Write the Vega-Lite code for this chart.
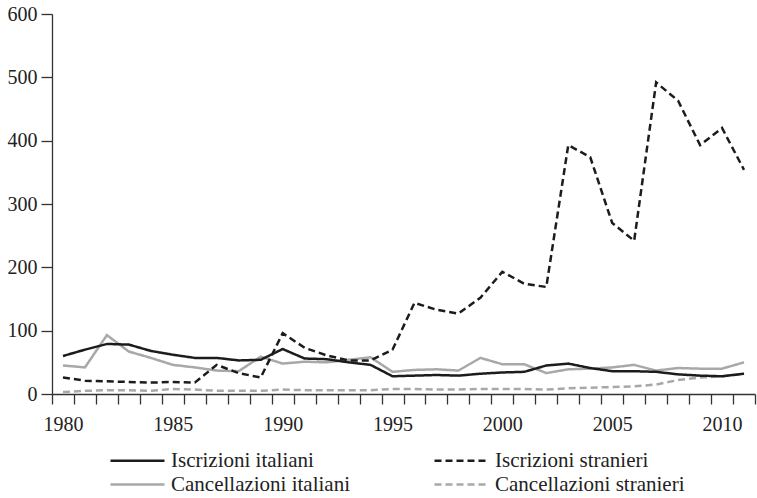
{
  "$schema": "https://vega.github.io/schema/vega-lite/v6.json",
  "autosize": {"type": "none"},
  "width": 703,
  "height": 380,
  "padding": {"left": 52, "top": 14, "right": 2, "bottom": 104},
  "background": "white",
  "config": {
    "view": {"stroke": null},
    "font": "Liberation Serif",
    "style": {"guide-label": {"font": "Liberation Serif", "fontSize": 20, "fill": "#222"}}
  },
  "data": {"values": [
    {"year":1980,"series":"Cancellazioni stranieri","value":3},{"year":1981,"series":"Cancellazioni stranieri","value":5},{"year":1982,"series":"Cancellazioni stranieri","value":6},{"year":1983,"series":"Cancellazioni stranieri","value":6},{"year":1984,"series":"Cancellazioni stranieri","value":5},{"year":1985,"series":"Cancellazioni stranieri","value":8},{"year":1986,"series":"Cancellazioni stranieri","value":7},{"year":1987,"series":"Cancellazioni stranieri","value":5},{"year":1988,"series":"Cancellazioni stranieri","value":5},{"year":1989,"series":"Cancellazioni stranieri","value":5},{"year":1990,"series":"Cancellazioni stranieri","value":7},{"year":1991,"series":"Cancellazioni stranieri","value":6},{"year":1992,"series":"Cancellazioni stranieri","value":6},{"year":1993,"series":"Cancellazioni stranieri","value":6},{"year":1994,"series":"Cancellazioni stranieri","value":6},{"year":1995,"series":"Cancellazioni stranieri","value":8},{"year":1996,"series":"Cancellazioni stranieri","value":8},{"year":1997,"series":"Cancellazioni stranieri","value":7},{"year":1998,"series":"Cancellazioni stranieri","value":7},{"year":1999,"series":"Cancellazioni stranieri","value":8},{"year":2000,"series":"Cancellazioni stranieri","value":8},{"year":2001,"series":"Cancellazioni stranieri","value":8},{"year":2002,"series":"Cancellazioni stranieri","value":7},{"year":2003,"series":"Cancellazioni stranieri","value":9},{"year":2004,"series":"Cancellazioni stranieri","value":10},{"year":2005,"series":"Cancellazioni stranieri","value":11},{"year":2006,"series":"Cancellazioni stranieri","value":12},{"year":2007,"series":"Cancellazioni stranieri","value":15},{"year":2008,"series":"Cancellazioni stranieri","value":22},{"year":2009,"series":"Cancellazioni stranieri","value":26},{"year":2010,"series":"Cancellazioni stranieri","value":28},{"year":2011,"series":"Cancellazioni stranieri","value":32},
    {"year":1980,"series":"Cancellazioni italiani","value":45},{"year":1981,"series":"Cancellazioni italiani","value":42},{"year":1982,"series":"Cancellazioni italiani","value":93},{"year":1983,"series":"Cancellazioni italiani","value":67},{"year":1984,"series":"Cancellazioni italiani","value":57},{"year":1985,"series":"Cancellazioni italiani","value":46},{"year":1986,"series":"Cancellazioni italiani","value":42},{"year":1987,"series":"Cancellazioni italiani","value":37},{"year":1988,"series":"Cancellazioni italiani","value":36},{"year":1989,"series":"Cancellazioni italiani","value":59},{"year":1990,"series":"Cancellazioni italiani","value":48},{"year":1991,"series":"Cancellazioni italiani","value":51},{"year":1992,"series":"Cancellazioni italiani","value":50},{"year":1993,"series":"Cancellazioni italiani","value":54},{"year":1994,"series":"Cancellazioni italiani","value":58},{"year":1995,"series":"Cancellazioni italiani","value":35},{"year":1996,"series":"Cancellazioni italiani","value":38},{"year":1997,"series":"Cancellazioni italiani","value":39},{"year":1998,"series":"Cancellazioni italiani","value":37},{"year":1999,"series":"Cancellazioni italiani","value":57},{"year":2000,"series":"Cancellazioni italiani","value":47},{"year":2001,"series":"Cancellazioni italiani","value":47},{"year":2002,"series":"Cancellazioni italiani","value":33},{"year":2003,"series":"Cancellazioni italiani","value":39},{"year":2004,"series":"Cancellazioni italiani","value":40},{"year":2005,"series":"Cancellazioni italiani","value":42},{"year":2006,"series":"Cancellazioni italiani","value":46},{"year":2007,"series":"Cancellazioni italiani","value":37},{"year":2008,"series":"Cancellazioni italiani","value":41},{"year":2009,"series":"Cancellazioni italiani","value":40},{"year":2010,"series":"Cancellazioni italiani","value":40},{"year":2011,"series":"Cancellazioni italiani","value":50},
    {"year":1980,"series":"Iscrizioni stranieri","value":26},{"year":1981,"series":"Iscrizioni stranieri","value":21},{"year":1982,"series":"Iscrizioni stranieri","value":20},{"year":1983,"series":"Iscrizioni stranieri","value":19},{"year":1984,"series":"Iscrizioni stranieri","value":18},{"year":1985,"series":"Iscrizioni stranieri","value":19},{"year":1986,"series":"Iscrizioni stranieri","value":18},{"year":1987,"series":"Iscrizioni stranieri","value":46},{"year":1988,"series":"Iscrizioni stranieri","value":33},{"year":1989,"series":"Iscrizioni stranieri","value":26},{"year":1990,"series":"Iscrizioni stranieri","value":96},{"year":1991,"series":"Iscrizioni stranieri","value":73},{"year":1992,"series":"Iscrizioni stranieri","value":61},{"year":1993,"series":"Iscrizioni stranieri","value":53},{"year":1994,"series":"Iscrizioni stranieri","value":53},{"year":1995,"series":"Iscrizioni stranieri","value":70},{"year":1996,"series":"Iscrizioni stranieri","value":144},{"year":1997,"series":"Iscrizioni stranieri","value":133},{"year":1998,"series":"Iscrizioni stranieri","value":127},{"year":1999,"series":"Iscrizioni stranieri","value":152},{"year":2000,"series":"Iscrizioni stranieri","value":193},{"year":2001,"series":"Iscrizioni stranieri","value":174},{"year":2002,"series":"Iscrizioni stranieri","value":169},{"year":2003,"series":"Iscrizioni stranieri","value":393},{"year":2004,"series":"Iscrizioni stranieri","value":374},{"year":2005,"series":"Iscrizioni stranieri","value":270},{"year":2006,"series":"Iscrizioni stranieri","value":242},{"year":2007,"series":"Iscrizioni stranieri","value":492},{"year":2008,"series":"Iscrizioni stranieri","value":463},{"year":2009,"series":"Iscrizioni stranieri","value":393},{"year":2010,"series":"Iscrizioni stranieri","value":420},{"year":2011,"series":"Iscrizioni stranieri","value":354},
    {"year":1980,"series":"Iscrizioni italiani","value":60},{"year":1981,"series":"Iscrizioni italiani","value":70},{"year":1982,"series":"Iscrizioni italiani","value":79},{"year":1983,"series":"Iscrizioni italiani","value":78},{"year":1984,"series":"Iscrizioni italiani","value":68},{"year":1985,"series":"Iscrizioni italiani","value":62},{"year":1986,"series":"Iscrizioni italiani","value":57},{"year":1987,"series":"Iscrizioni italiani","value":57},{"year":1988,"series":"Iscrizioni italiani","value":53},{"year":1989,"series":"Iscrizioni italiani","value":54},{"year":1990,"series":"Iscrizioni italiani","value":71},{"year":1991,"series":"Iscrizioni italiani","value":56},{"year":1992,"series":"Iscrizioni italiani","value":55},{"year":1993,"series":"Iscrizioni italiani","value":50},{"year":1994,"series":"Iscrizioni italiani","value":46},{"year":1995,"series":"Iscrizioni italiani","value":28},{"year":1996,"series":"Iscrizioni italiani","value":29},{"year":1997,"series":"Iscrizioni italiani","value":30},{"year":1998,"series":"Iscrizioni italiani","value":29},{"year":1999,"series":"Iscrizioni italiani","value":32},{"year":2000,"series":"Iscrizioni italiani","value":34},{"year":2001,"series":"Iscrizioni italiani","value":35},{"year":2002,"series":"Iscrizioni italiani","value":45},{"year":2003,"series":"Iscrizioni italiani","value":48},{"year":2004,"series":"Iscrizioni italiani","value":41},{"year":2005,"series":"Iscrizioni italiani","value":36},{"year":2006,"series":"Iscrizioni italiani","value":36},{"year":2007,"series":"Iscrizioni italiani","value":35},{"year":2008,"series":"Iscrizioni italiani","value":31},{"year":2009,"series":"Iscrizioni italiani","value":29},{"year":2010,"series":"Iscrizioni italiani","value":28},{"year":2011,"series":"Iscrizioni italiani","value":32}
  ]},
  "mark": {"type": "line", "strokeWidth": 2.5, "strokeJoin": "miter"},
  "encoding": {
    "x": {
      "field": "year", "type": "ordinal",
      "scale": {"type": "band", "paddingInner": 0, "paddingOuter": 0},
      "axis": {"title": null, "grid": false, "tickBand": "extent", "tickSize": 10, "labelAngle": 0, "labelPadding": 10,
               "labelFont": "Liberation Serif", "labelFontSize": 20, "labelColor": "#222",
               "domainColor": "#333", "tickColor": "#333", "domainWidth": 1.3, "tickWidth": 1.3,
               "labelExpr": "datum.value % 5 == 0 ? datum.label : ''"}
    },
    "y": {
      "field": "value", "type": "quantitative",
      "scale": {"domain": [0, 600], "nice": false},
      "axis": {"title": null, "grid": false, "values": [0, 100, 200, 300, 400, 500, 600], "tickSize": 11, "labelPadding": 4,
               "labelFont": "Liberation Serif", "labelFontSize": 20, "labelColor": "#222",
               "domainColor": "#333", "tickColor": "#333", "domainWidth": 1.3, "tickWidth": 1.3}
    },
    "color": {
      "field": "series", "type": "nominal",
      "scale": {
        "domain": ["Iscrizioni italiani", "Iscrizioni stranieri", "Cancellazioni italiani", "Cancellazioni stranieri"],
        "range": ["#1c1c1c", "#1c1c1c", "#a8a8a8", "#a8a8a8"]
      },
      "legend": {
        "title": null, "orient": "none", "legendX": 74, "legendY": 435,
        "direction": "horizontal", "columns": 2, "columnPadding": 78, "rowPadding": 2,
        "symbolType": "M-2.7,0H2.7", "symbolSize": 400, "symbolStrokeWidth": 2.5,
        "labelFont": "Liberation Serif", "labelFontSize": 21, "labelColor": "#222", "labelOffset": 22, "labelLimit": 400
      }
    },
    "strokeDash": {
      "field": "series", "type": "nominal",
      "scale": {
        "domain": ["Iscrizioni italiani", "Iscrizioni stranieri", "Cancellazioni italiani", "Cancellazioni stranieri"],
        "range": [[1, 0], [7, 4], [1, 0], [7, 4]]
      },
      "legend": null
    }
  }
}
